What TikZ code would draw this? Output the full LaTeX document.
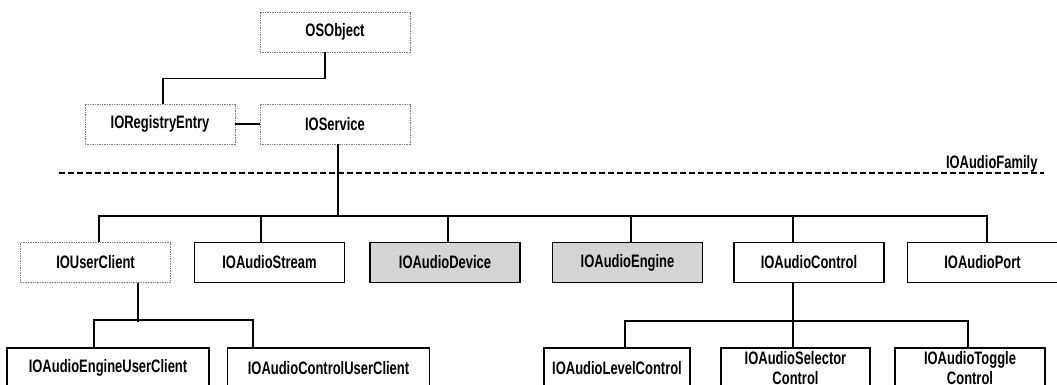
\documentclass[tikz,border=0pt]{standalone}
\usepackage{fontspec}
\setmainfont{Liberation Sans}[FakeStretch=0.72]
\usetikzlibrary{calc}
\definecolor{KernGray}{RGB}{125,125,125}
\definecolor{AudioGray}{RGB}{212,212,212}
\tikzset{
  cls/.style={draw=black,line width=1.4pt,fill=white,minimum width=150pt,minimum height=40pt,inner sep=0pt,align=center,font=\bfseries\fontsize{18}{20}\selectfont},
  kerncls/.style={cls,draw=KernGray,densely dotted,line width=.9pt},
  drvcls/.style={cls,fill=AudioGray},
  link/.style={line width=1.8pt}
}

\begin{document}
\begin{tikzpicture}[x=1pt,y=-1pt]
\clip (0,0) rectangle (1057,385);
% kernel classes
\node[kerncls] (osobj) at (335,32) {OSObject};
\node[kerncls] (regentry) at (160,124) {IORegistryEntry};
\node[kerncls] (service) at (335,124) {IOService};
\draw[link] ([xshift=-10pt]osobj.south) -- ++(0,26) -| ([xshift=3pt]regentry.north);
\draw[link] (regentry) -- (service);
% family boundary
\draw[line width=1.5pt,dash pattern=on 6pt off 3pt] (59,173) -- (1044,173);
\node[font=\bfseries\fontsize{18}{20}\selectfont,anchor=base east] (famlabel) at (1041,168) {IOAudioFamily};
% audio family classes
\coordinate (bus) at (0,217);
\node[kerncls] (userclient) at (95.5,262.5) {IOUserClient};
\node[cls] (stream) at (269.5,262.5) {IOAudioStream};
\node[drvcls] (device) at (445,262.5) {IOAudioDevice};
\node[drvcls] (engine) at (627.5,262.5) {IOAudioEngine};
\node[cls] (control) at (809,262.5) {IOAudioControl};
\node[cls] (port) at (982.5,262.5) {IOAudioPort};
\draw[link] ([xshift=3pt]service.south) -- ([xshift=3pt]service.south |- bus);
\draw[link] ([xshift=3.5pt]userclient.north) -- ++(0,-26) -| ([xshift=4.5pt]port.north);
\foreach \n/\s in {stream/-8.5,device/3,engine/3.5,control/-16}
  \draw[link] ([xshift=\s pt]\n.north) -- ++(0,-26);
% subclasses
\node[cls,minimum width=202pt] (engineuc) at (108,368) {IOAudioEngineUserClient};
\node[cls,minimum width=202pt] (controluc) at (328.5,368) {IOAudioControlUserClient};
\node[cls,minimum width=146pt] (level) at (617,368) {IOAudioLevelControl};
\node[cls,minimum width=149pt] (selector) at (795.5,368) {IOAudioSelector\\Control};
\node[cls] (toggle) at (970,368) {IOAudioToggle\\Control};
\draw[link] ([xshift=42.5pt]userclient.south) -- ++(0,39);
\draw[link] ([xshift=-14pt]engineuc.north) -- ++(0,-27) -| ([xshift=-75.5pt]controluc.north);
\draw[link] ([xshift=-16pt]control.south) -- ++(0,40);
\draw[link] ([xshift=8pt]level.north) -- ++(0,-26) -| ([xshift=-2pt]toggle.north);
\draw[link] ([xshift=-2.5pt]selector.north) -- ++(0,-26);
\end{tikzpicture}
\end{document}
